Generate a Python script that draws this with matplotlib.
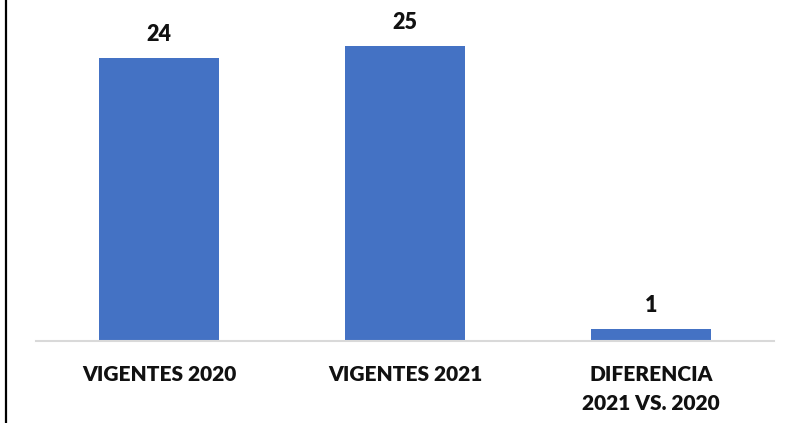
import numpy as np
import matplotlib.pyplot as plt
from matplotlib.lines import Line2D

categories = ['VIGENTES 2020', 'VIGENTES 2021', 'DIFERENCIA\n2021 VS. 2020']
values = [24, 25, 1]

plt.rcParams['font.family'] = ['Lato', 'DejaVu Sans']

fig = plt.figure(figsize=(7.87, 4.23), dpi=100)
ax = fig.add_axes([36 / 787, 82 / 423, 738 / 787, 341 / 423])

x = np.arange(len(categories))
bars = ax.bar(x, values, width=0.49, color='#4472c4')

for rect, v in zip(bars, values):
    ax.annotate(str(v), (rect.get_x() + rect.get_width() / 2, rect.get_height()),
                xytext=(0, 9.5), textcoords='offset points',
                ha='center', va='bottom', fontsize=15.5, fontweight='heavy', color='#111111')

ax.set_xlim(-0.5, 2.5)
ax.set_ylim(0, 341 / 11.8)
ax.set_xticks(x)
ax.set_xticklabels(categories, fontsize=15, fontweight='heavy', color='#111111', linespacing=1.6)
ax.tick_params(axis='x', length=0, pad=17.5)
ax.set_yticks([])
for side in ['top', 'right', 'left']:
    ax.spines[side].set_visible(False)
ax.spines['bottom'].set_color('#d9d9d9')
ax.spines['bottom'].set_linewidth(1.5)

fig.add_artist(Line2D([6 / 787, 6 / 787], [0, 1], color='black', linewidth=1.6,
                      transform=fig.transFigure))

plt.savefig('out.png', dpi=100)
